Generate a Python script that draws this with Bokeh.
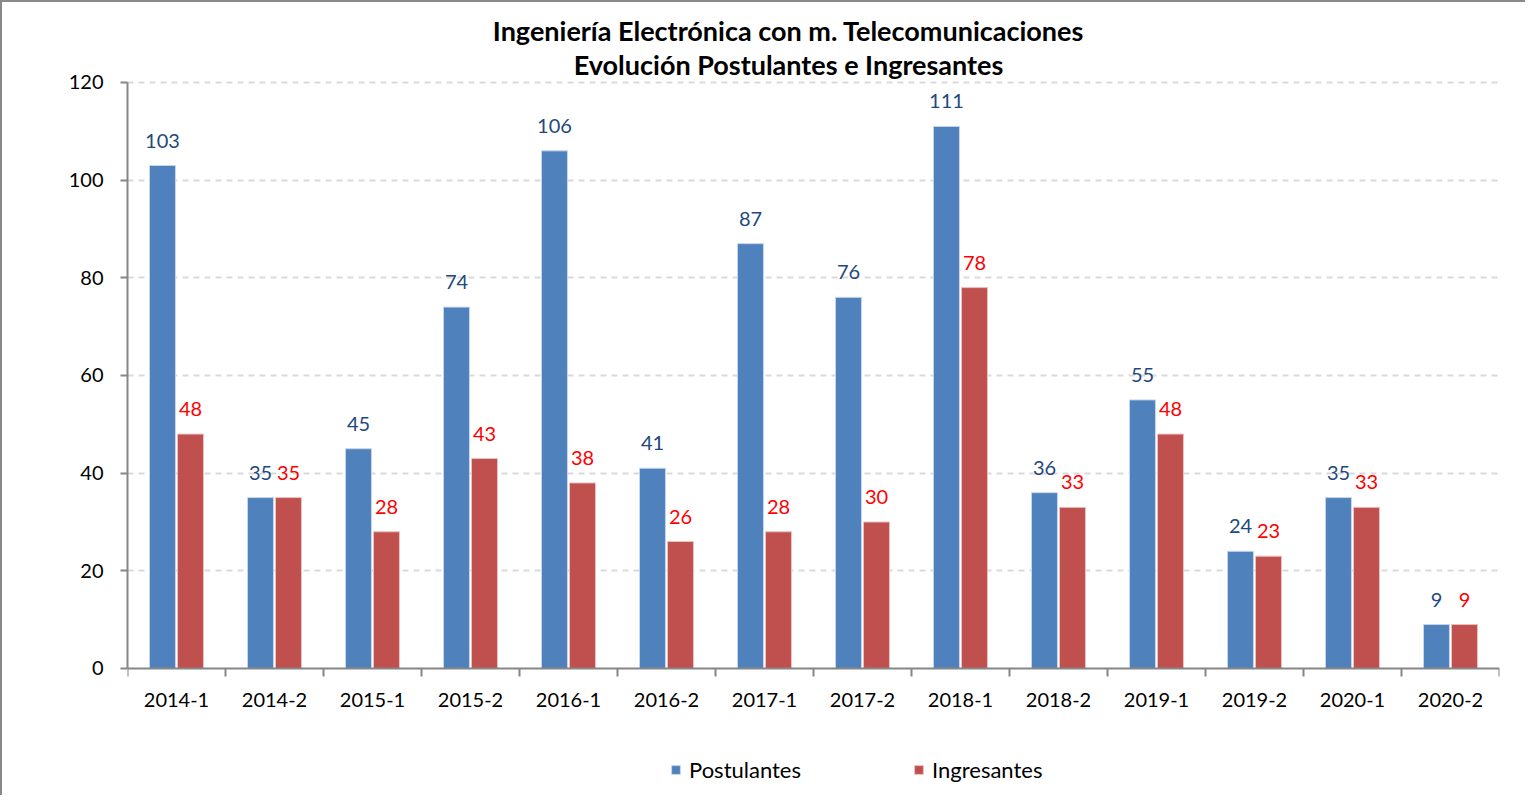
from bokeh.plotting import figure
from bokeh.models import (ColumnDataSource, Range1d, LinearAxis, FixedTicker, LabelSet, Label,
                          Legend, LegendItem)
from bokeh.core.properties import value
from bokeh.transform import dodge
from bokeh.embed import file_html
from bokeh.resources import INLINE

categories = ["2014-1", "2014-2", "2015-1", "2015-2", "2016-1", "2016-2", "2017-1",
              "2017-2", "2018-1", "2018-2", "2019-1", "2019-2", "2020-1", "2020-2"]
postulantes = [103, 35, 45, 74, 106, 41, 87, 76, 111, 36, 55, 24, 35, 9]
ingresantes = [48, 35, 28, 43, 38, 26, 28, 30, 78, 33, 48, 23, 33, 9]
y_ticks = [0, 20, 40, 60, 80, 100, 120]
title_lines = ["Ingeniería Electrónica con m. Telecomunicaciones",
               "Evolución Postulantes e Ingresantes"]
series_names = ["Postulantes", "Ingresantes"]

BLUE = "#4F81BD"
RED = "#C0504D"
AXIS = "#868686"
FONT = "Lato"
n = len(categories)
centers = [i + 0.5 for i in range(n)]
bounds = list(range(n + 1))

src = ColumnDataSource(dict(xc=centers, cat=categories, post=postulantes, ing=ingresantes,
                            post_s=[str(v) for v in postulantes],
                            ing_s=[str(v) for v in ingresantes]))

# frame covers the whole canvas height; the value axis spans 0..120 only
p = figure(width=1525, height=795, x_range=Range1d(0, n),
           y_range=Range1d(-26.42, 136.38), output_backend="svg", toolbar_location=None,
           x_axis_location=None, y_axis_location=None,
           min_border_left=125, min_border_right=28, min_border_top=0, min_border_bottom=0)
p.styles = {"border-left": "2px solid #898989", "border-top": "2px solid #898989"}
p.outline_line_color = None
p.background_fill_color = "white"
p.border_fill_color = "white"

yax = LinearAxis(ticker=FixedTicker(ticks=y_ticks), bounds=(0, 120),
                 axis_line_color=AXIS, axis_line_width=2,
                 major_tick_line_color=AXIS, major_tick_line_width=2,
                 major_tick_out=7, major_tick_in=0, minor_tick_line_color=None,
                 major_label_text_font=FONT, major_label_text_font_size="20px",
                 major_label_text_color="black", major_label_standoff=17)
p.add_layout(yax, "left")

p.ygrid.ticker = FixedTicker(ticks=y_ticks[1:])
p.ygrid.grid_line_color = "#D9D9D9"
p.ygrid.grid_line_dash = "6 5"
p.ygrid.grid_line_width = 2
p.xgrid.grid_line_color = None

r1 = p.vbar(x=dodge("xc", -0.143), top="post", width=0.265, source=src,
            fill_color=BLUE, line_color="#C6D5EA", line_width=1)
r2 = p.vbar(x=dodge("xc", 0.143), top="ing", width=0.265, source=src,
            fill_color=RED, line_color="#E8C2C1", line_width=1)

# category axis at y = 0: labels at centres, separator ticks between categories
cat_axis = LinearAxis(fixed_location=0, ticker=FixedTicker(ticks=centers, minor_ticks=bounds),
                      major_label_overrides={c: lab for c, lab in zip(centers, categories)},
                      axis_line_color=AXIS, axis_line_width=2,
                      major_tick_line_color=None,
                      minor_tick_line_color=AXIS, minor_tick_line_width=2,
                      minor_tick_out=8, minor_tick_in=0,
                      major_label_text_font=FONT, major_label_text_font_size="20px",
                      major_label_text_color="black", major_label_standoff=17)
p.add_layout(cat_axis, "below")

p.add_layout(LabelSet(x=dodge("xc", -0.143), y="post", text="post_s", source=src,
                      y_offset=18, text_align="center", text_baseline="alphabetic",
                      text_font=value(FONT), text_font_size="20px", text_color="#1F497D"))
p.add_layout(LabelSet(x=dodge("xc", 0.143), y="ing", text="ing_s", source=src,
                      y_offset=18, text_align="center", text_baseline="alphabetic",
                      text_font=value(FONT), text_font_size="20px", text_color="#FF0000"))

for txt, yv in zip(title_lines, [130.55, 123.6]):
    p.add_layout(Label(x=6.745, y=yv, text=txt, text_align="center", text_baseline="alphabetic",
                       text_font=FONT, text_font_size="27px", text_font_style="bold",
                       text_color="black"))

legend = Legend(items=[LegendItem(label=series_names[0], renderers=[r1]),
                       LegendItem(label=series_names[1], renderers=[r2])],
                location=(543, 14), orientation="horizontal", padding=0, margin=0,
                spacing=112, label_standoff=8, glyph_width=11, glyph_height=11,
                label_text_font=FONT, label_text_font_size="22px", label_text_color="black",
                border_line_color=None, background_fill_alpha=0)
p.add_layout(legend, "center")

open("out.html", "w").write(file_html(p, INLINE))
